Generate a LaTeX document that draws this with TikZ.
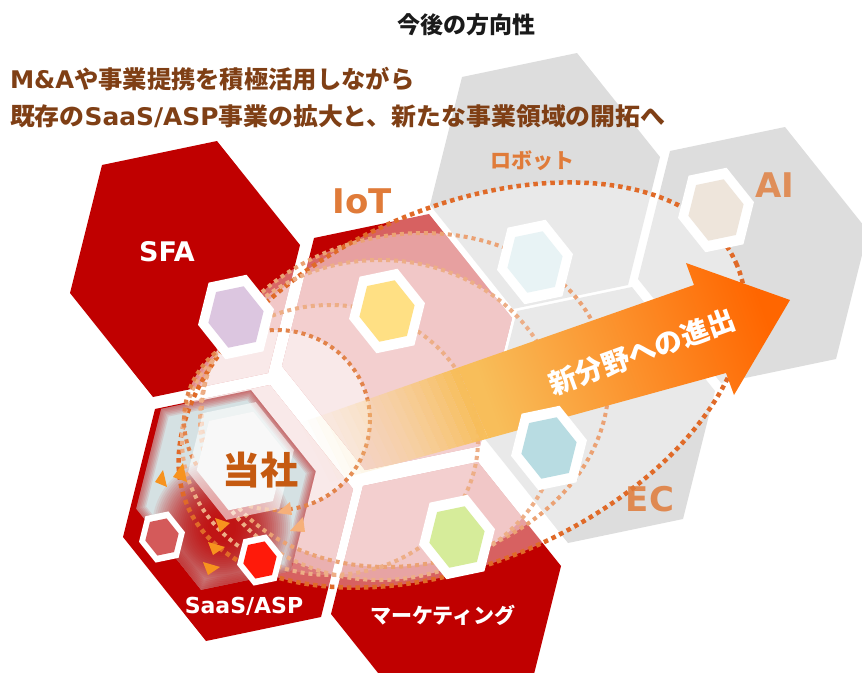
\documentclass[tikz,border=0pt]{standalone}
\usepackage{fontspec}
\newfontfamily\jp{Noto Sans CJK JP}
\newfontfamily\lat{DejaVu Sans}
\usetikzlibrary{calc}
\definecolor{hred}{HTML}{C00000}
\definecolor{hgray}{HTML}{DDDDDD}
\definecolor{dotA}{HTML}{E06A28}
\definecolor{dotB}{HTML}{EBA274}
\definecolor{dotC}{HTML}{EDAE86}
\definecolor{dotD}{HTML}{E2834A}
\definecolor{headc}{HTML}{7F3F15}
\definecolor{lab}{HTML}{E07B39}
\definecolor{tosha}{HTML}{C55A11}
\definecolor{titlec}{HTML}{1A1A1A}
\definecolor{glowblue}{HTML}{D5E1E3}
\definecolor{triA}{HTML}{F7931E}
\definecolor{triB}{HTML}{F6B07A}
\definecolor{arrowA}{HTML}{FBE6B4}
\definecolor{arrowB}{HTML}{F8BE5A}
\definecolor{arrowM}{HTML}{F99A2C}
\definecolor{arrowC}{HTML}{FF6600}
\definecolor{cpurple}{HTML}{DCC6E0}
\definecolor{cyellow}{HTML}{FFE084}
\definecolor{ccyan}{HTML}{E8F3F5}
\definecolor{cbeige}{HTML}{EEE5DB}
\definecolor{cblue}{HTML}{B8DCE2}
\definecolor{cgreen}{HTML}{D6EC9A}
\definecolor{cpink}{HTML}{D45A5A}
\definecolor{cred}{HTML}{FF1A0A}
\definecolor{cwhite}{HTML}{F8F8F8}
% hexagon centred at (#1,#2), scaled by #3
\newcommand\hexat[3]{({#1+115*#3},{#2-24*#3}) -- ({#1+32*#3},{#2-128*#3}) -- ({#1-83*#3},{#2-104*#3}) -- ({#1-115*#3},{#2+24*#3}) -- ({#1-32*#3},{#2+128*#3}) -- ({#1+83*#3},{#2+104*#3}) -- cycle}
\newcommand\fs[1]{\fontsize{#1}{#1}\selectfont}
\newcommand\minihex[5]{%
  \fill[white] \hexat{#1}{#2}{#3};
  \fill[#5] \hexat{#1}{#2}{#4};}
\tikzset{
  txt/.style={inner sep=0pt, outer sep=0pt},
  dotsA/.style={dotA, line width=4.5pt, dash pattern=on 4.5pt off 4pt},
  dotsB/.style={dotB, line width=4pt, dash pattern=on 4pt off 4pt},
  dotsC/.style={dotC, line width=4pt, dash pattern=on 4pt off 4pt},
  dotsD/.style={dotD, line width=4pt, dash pattern=on 4pt off 4pt},
  veil/.style={white, opacity=#1},
}
\begin{document}
\begin{tikzpicture}[x=1pt,y=-1pt]
\clip (0,0) rectangle (862,672);
\fill[white] (0,0) rectangle (862,672);
% big hexagons
\fill[hgray] \hexat{545}{181}{1};
\fill[hgray] \hexat{753}{255}{1};
\fill[hgray] \hexat{600}{415}{1};
\fill[hred] \hexat{185}{269}{1};
\fill[hred] \hexat{397}{342}{1};
\fill[hred] \hexat{238}{513}{1};
\fill[hred] \hexat{446}{590}{1};
% translucent veils
\fill[veil=.38, rotate around={24:(462,385)}] (462,385) ellipse [x radius=300, y radius=177];
\begin{scope}
  \clip \hexat{185}{269}{1} \hexat{397}{342}{1} \hexat{238}{513}{1} \hexat{446}{590}{1};
  \fill[veil=.4, rotate around={12:(405,400)}] (405,400) ellipse [x radius=205, y radius=165];
  \fill[veil=.42] (380,420) ellipse [x radius=180, y radius=160];
  \fill[veil=.15] (330,440) ellipse [x radius=148, y radius=135];
  \fill[veil=.55] (277,420) ellipse [x radius=93, y radius=90];
\end{scope}
% glow inside SaaS: bluish field, soft red core, soft red rim
\begin{scope}
  \clip \hexat{226}{490}{.78};
  \fill[glowblue] \hexat{226}{490}{.78};
  \foreach \r in {70,68,...,14}{
    \fill[hred, opacity=.07] (222,528) circle [radius=\r];
  }
  \foreach \w in {18,15,...,3}{
    \draw[hred, opacity=.1, line width=\w pt, line join=round] \hexat{226}{490}{.78};
  }
\end{scope}
% dotted outlines
\draw[dotsA, rotate around={24:(462,385)}] (462,385) ellipse [x radius=300, y radius=177];
\draw[dotsB, rotate around={12:(405,400)}] (405,400) ellipse [x radius=205, y radius=165];
\draw[dotsC] (380,420) ellipse [x radius=180, y radius=160];
\draw[dotsC] (330,440) ellipse [x radius=148, y radius=135];
\draw[dotsD] (277,420) ellipse [x radius=93, y radius=90];
% small hexagons
\minihex{236}{317}{.33}{.24}{cpurple}
\minihex{387}{311}{.33}{.24}{cyellow}
\minihex{535}{262}{.33}{.24}{ccyan}
\minihex{716}{210}{.33}{.24}{cbeige}
\minihex{457}{537}{.33}{.24}{cgreen}
\minihex{162}{537}{.2}{.145}{cpink}
\minihex{260}{560}{.2}{.145}{cred}
% company hexagon
\fill[white, opacity=.6] \hexat{241}{461}{.46};
\fill[cwhite] \hexat{241}{461}{.385};
% triangles
\fill[triA] (163,470) -- (155,482) -- (167,487) -- cycle;
\fill[triA] (183,463) -- (173,477) -- (187,482) -- cycle;
\fill[triA] (215,518) -- (230,523) -- (220,532) -- cycle;
\fill[triA] (208,542) -- (225,547) -- (213,555) -- cycle;
\fill[triA] (203,562) -- (220,567) -- (208,575) -- cycle;
\fill[triB] (290,502) -- (292,515) -- (277,513) -- cycle;
\fill[triB] (303,517) -- (305,532) -- (290,531) -- cycle;
% arrow: fading tail made of strips, then the shaded body and head
\coordinate (pu0) at (300,423);
\coordinate (pu1) at (694,285);
\coordinate (pl0) at (330,482);
\coordinate (pl1) at (726,373);
\coordinate (su) at ($(pu0)!0.4!(pu1)$);
\coordinate (sl) at ($(pl0)!0.4!(pl1)$);
\foreach \i in {0,...,19}{
  \pgfmathsetmacro\ta{0.4*\i/20}
  \pgfmathsetmacro\tb{0.4*(\i+1)/20}
  \pgfmathsetmacro\op{(\i+0.5)/20}
  \pgfmathsetmacro\mx{100*\i/19}
  \fill[arrowB!\mx!arrowA, opacity=\op] ($(pu0)!\ta!(pu1)$) -- ($(pu0)!\tb!(pu1)$) -- ($(pl0)!\tb!(pl1)$) -- ($(pl0)!\ta!(pl1)$) -- cycle;
}
\shade[left color=arrowB, middle color=arrowM, right color=arrowC, shading angle=110]
  (su) -- (pu1) -- (686,263) -- (790,300) -- (734,395) -- (pl1) -- (sl) -- cycle;
% EC hexagon lies over the arrow
\minihex{549}{448}{.33}{.24}{cblue}
% texts
\node[txt, text=titlec, font=\jp\bfseries\fs{23}] (title) at (466,25) {今後の方向性};
\node[txt, anchor=west, text=headc, font=\bfseries\fs{24.3}] (h1) at (10,79) {{\lat M\&A}{\jp や事業提携を積極活用しながら}};
\node[txt, anchor=west, text=headc, font=\bfseries\fs{24.3}] (h2) at (10,116) {\scalebox{1.024}[1]{{\jp 既存の}{\lat SaaS/ASP}{\jp 事業の拡大と、新たな事業領域の開拓へ}}};
\node[txt, text=white, font=\lat\bfseries\fs{27}] (sfa) at (167,252) {SFA};
\node[txt, text=white, font=\lat\bfseries\fs{22}] (saas) at (244,606) {SaaS/ASP};
\node[txt, text=white, font=\jp\bfseries\fs{21}] (mkt) at (443,615) {マーケティング};
\node[txt, text=lab, font=\lat\bfseries\fs{34}] (iot) at (362,201) {IoT};
\node[txt, text=lab, font=\jp\bfseries\fs{21}] (robot) at (532,161) {ロボット};
\node[txt, text=lab, text opacity=.8, font=\lat\bfseries\fs{34}] (ai) at (775,185) {AI};
\node[txt, text=lab, text opacity=.85, font=\lat\bfseries\fs{34}] (ec) at (650,499) {EC};
\node[txt, text=tosha, font=\jp\bfseries\fs{38}] (tosha) at (260,470) {当社};
\node[txt, text=white, rotate=20, font=\jp\bfseries\fs{28}] (newfield) at (642,352) {新分野への進出};
\end{tikzpicture}
\end{document}
